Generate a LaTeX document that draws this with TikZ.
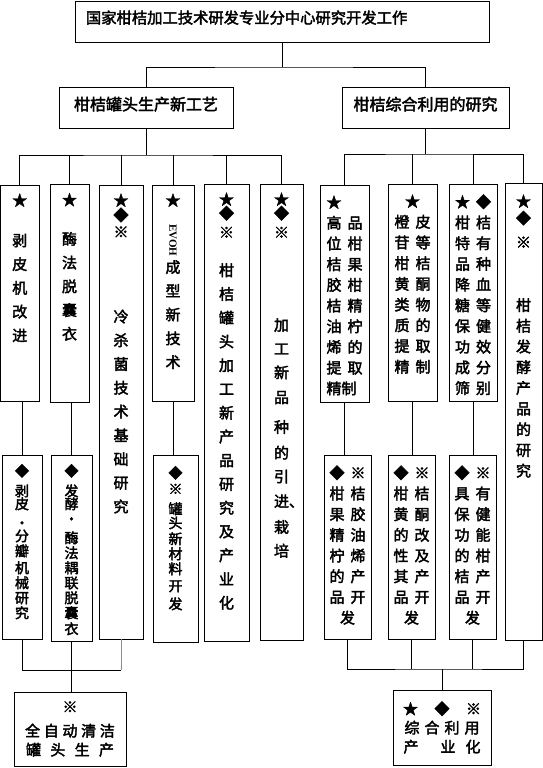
\documentclass[tikz,border=0pt]{standalone}
\usepackage{fontspec}
\usepackage{graphicx}
\newfontfamily\cjk[FakeBold=2.5]{Noto Sans CJK SC}
\newfontfamily\latinserif{Liberation Serif}
\usetikzlibrary{positioning}
\newcommand{\gp}{\hspace{6pt}}
\lineskiplimit=-100pt

\begin{document}
\begin{tikzpicture}[
    x=1pt, y=-1pt,
    line width=0.8pt,
    % boxes (sizes in px of the original chart)
    box/.style={draw, inner sep=0pt},
    sz/.style 2 args={minimum width=#1pt, minimum height=#2pt},
    hdr/.style={box, font=\cjk\fontsize{16}{19}\selectfont, text depth=8pt},
    % stacked text inside the tall boxes
    vtxt/.style={font=\cjk\fontsize{15}{23.75}\selectfont, align=center, inner sep=0pt},
    rtxt/.style={vtxt, font=\cjk\fontsize{15}{20.7}\selectfont},
    ltxt/.style={vtxt, font=\cjk\fontsize{14}{15}\selectfont},
    link/.style={draw},
    faint/.style={draw=black!45}
  ]
  \useasboundingbox[fill=white] (0,0) rectangle (543,768);

  % ===================== top + second level =====================
  \node[box, sz={414}{41}, font=\cjk\fontsize{15.3}{18}\selectfont,
        text width=392pt, align=left, inner xsep=11pt, text depth=9pt] (top) at (282,21.5)
    {国家柑桔加工技术研发专业分中心研究开发工作};
  \node[hdr, sz={174}{41}] (can) at (146,107.5) {柑桔罐头生产新工艺};
  \node[hdr, sz={167}{41}] (use) at (425.5,107.5) {柑桔综合利用的研究};

  \coordinate (tbus) at (top.south |- 0,67);
  \draw[link] (top.south) -- (tbus);
  \draw[link] (can.north) |- (tbus) -| (use.north);

  % ===================== left branch: columns =====================
  \node[box, sz={38.5}{216}] (c1) at (19.75,293) {};
  \node[box, sz={39}{217.5}] (c2) at (69.5,293.25) {};
  \node[box, sz={44}{454}] (c3) at (121,412) {};
  \node[box, sz={42}{216}] (c4) at (173,293) {};
  \node[box, sz={45}{457}] (c5) at (226.5,412.5) {};
  \node[box, sz={43}{456}] (c6) at (281.5,412) {};

  \node[vtxt, below=8.5pt of c1.north] (c1t) {★\\[16.5pt]剥\\皮\\机\\改\\进};
  \node[vtxt, below=8.5pt of c2.north] (c2t) {★\\[15.5pt]酶\\法\\脱\\囊\\衣};
  \node[vtxt, below=8.5pt of c3.north] (c3t)
    {★\\[-8.9pt]◆\\[-6.9pt]※\\[61pt]冷\\杀\\菌\\技\\术\\基\\础\\研\\究};
  \node[vtxt, below=8.5pt of c4.north] (c4t)
    {★\\[-5.5pt]\rotatebox{-90}{\latinserif\bfseries\fontsize{11}{11}\selectfont EVOH}\\[25pt]成\\型\\新\\技\\术};
  \node[vtxt, below=8.5pt of c5.north] (c5t)
    {★\\[-9.7pt]◆\\[-4.7pt]※\\[14.3pt]柑\\桔\\罐\\头\\加\\工\\新\\产\\品\\研\\究\\及\\产\\业\\化};
  \node[vtxt, below=8.5pt of c6.north] (c6t)
    {★\\[-9.7pt]◆\\[-4.7pt]※\\[69pt]加\\工\\新\\[1pt]品\\[6pt]种\\[2pt]的\\引\\[1pt]进\rlap{、}\\[2pt]栽\\培};

  \coordinate (lbus) at (can.south |- 0,155);
  \draw[link] (can.south) -- (lbus);
  \draw[link] (c1.north) |- (lbus) -| (c6.north);
  \foreach \c in {c2,c3,c4,c5}
    \draw[link] (\c.north) -- (\c.north |- lbus);

  % lower boxes under the left columns
  \node[box, sz={40}{184}] (l1) at (22,547) {};
  \node[box, sz={41}{186}] (l2) at (71.5,548) {};
  \node[box, sz={45}{187}] (l4) at (175.5,548.5) {};

  \node[ltxt, below=9pt of l1.north] (l1t)
    {◆\\[5pt]剥\\[-2pt]皮\\[4pt]·\\[-2pt]分\\瓣\\[2pt]机\\械\\研\\究};
  \node[ltxt, below=9pt of l2.north] (l2t)
    {◆\\[5pt]发\\[-2pt]酵\\·\\[4pt]酶\\法\\耦\\联\\脱\\囊\\[1pt]衣};
  \node[ltxt, below=11pt of l4.north] (l4t)
    {◆\\[1pt]※\\[5pt]罐\\[-1pt]头\\[1pt]新\\材\\料\\[2pt]开\\[3pt]发};

  \draw[link] (l1.north) -- (l1.north |- c1.south);
  \draw[link] (l2.north) -- (l2.north |- c2.south);
  \draw[link] (c4.south) -- (c4.south |- l4.north);

  \node[box, sz={112}{74}, align=center, font=\cjk\fontsize{15}{19}\selectfont] (auto) at (70,729)
    {※\\[5pt]全\hspace{3.7pt}自\hspace{3.7pt}动\hspace{3.7pt}清\hspace{3.7pt}洁\\
     罐\hspace{9.3pt}头\hspace{9.3pt}生\hspace{9.3pt}产};

  \coordinate (abus) at (l1.south |- 0,670);
  \draw[link] (l1.south) -- (abus) -- (abus -| c3.south);
  \draw[faint] (c3.south) -- (abus -| c3.south);
  \draw[link] (l2.south) -- (l2.south |- auto.north);

  % ===================== right branch: columns =====================
  \node[box, sz={49}{217}] (c7) at (344.5,293.5) {};
  \node[box, sz={49}{217}] (c8) at (412.5,292.5) {};
  \node[box, sz={48}{217}] (c9) at (473,292.5) {};
  \node[box, sz={37}{457}] (c10) at (523.5,411.5) {};

  \node[rtxt, align=left, below=10.5pt of c7.north] (c7t)
    {★\\高\gp{}品\\位\gp{}柑\\桔\gp{}果\\胶\gp{}柑\\桔\gp{}精\\油\gp{}柠\\烯\gp{}的\\提\gp{}取\\精制};
  \node[rtxt, below=10.5pt of c8.north] (c8t)
    {★\\橙\gp{}皮\\苷\gp{}等\\柑\gp{}桔\\黄\gp{}酮\\类\gp{}物\\质\gp{}的\\提\gp{}取\\精\gp{}制};
  \node[rtxt, below=10.5pt of c9.north] (c9t)
    {★\gp{}◆\\柑\gp{}桔\\特\gp{}有\\品\gp{}种\\降\gp{}血\\糖\gp{}等\\保\gp{}健\\功\gp{}效\\成\gp{}分\\筛\gp{}别};
  \node[rtxt, below=11.5pt of c10.north] (c10t)
    {★\\[-3.7pt]◆\\[3.3pt]※\\[42.3pt]柑\\桔\\发\\酵\\产\\品\\的\\研\\究};

  \coordinate (rbus) at (use.south |- 0,154);
  \draw[link] (use.south) -- (rbus);
  \draw[link] (c7.north) |- (rbus) -| (c10.north);
  \foreach \c in {c8,c9}
    \draw[link] (\c.north) -- (\c.north |- rbus);

  % lower boxes under the right columns
  \node[box, sz={47}{184}] (l7) at (347.5,547) {};
  \node[box, sz={47}{184}] (l8) at (411.5,547) {};
  \node[box, sz={47}{184}] (l9) at (472.5,547) {};

  \node[rtxt, below=10.5pt of l7.north] (l7t)
    {◆\gp{}※\\柑\gp{}桔\\果\gp{}胶\\精\gp{}油\\柠\gp{}烯\\的\gp{}产\\品\gp{}开\\发};
  \node[rtxt, below=10.5pt of l8.north] (l8t)
    {◆\gp{}※\\柑\gp{}桔\\黄\gp{}酮\\的\gp{}改\\性\gp{}及\\其\gp{}产\\品\gp{}开\\发};
  \node[rtxt, below=10.5pt of l9.north] (l9t)
    {◆\gp{}※\\具\gp{}有\\保\gp{}健\\功\gp{}能\\的\gp{}柑\\桔\gp{}产\\品\gp{}开\\发};

  \draw[link] (c7.south) -- (c7.south |- l7.north);
  \draw[link] (c8.south) -- (c8.south |- l8.north);
  \draw[link] (c9.south) -- (c9.south |- l9.north);

  \node[box, sz={98}{75}, align=center, font=\cjk\fontsize{15}{19}\selectfont] (zh) at (442,727.5)
    {★\hspace{16.5pt}◆\hspace{16.5pt}※\\
     综\hspace{5pt}合\hspace{5pt}利\hspace{5pt}用\\
     产\hspace{22pt}业\hspace{10pt}化};

  \coordinate (zbus) at (zh.north |- 0,669);
  \draw[link] (l7.south) |- (zbus) -| (c10.south);
  \draw[link] (l8.south) -- (l8.south |- zbus);
  \draw[link] (l9.south) -- (l9.south |- zbus);
  \draw[link] (zh.north) -- (zbus);

\end{tikzpicture}
\end{document}
